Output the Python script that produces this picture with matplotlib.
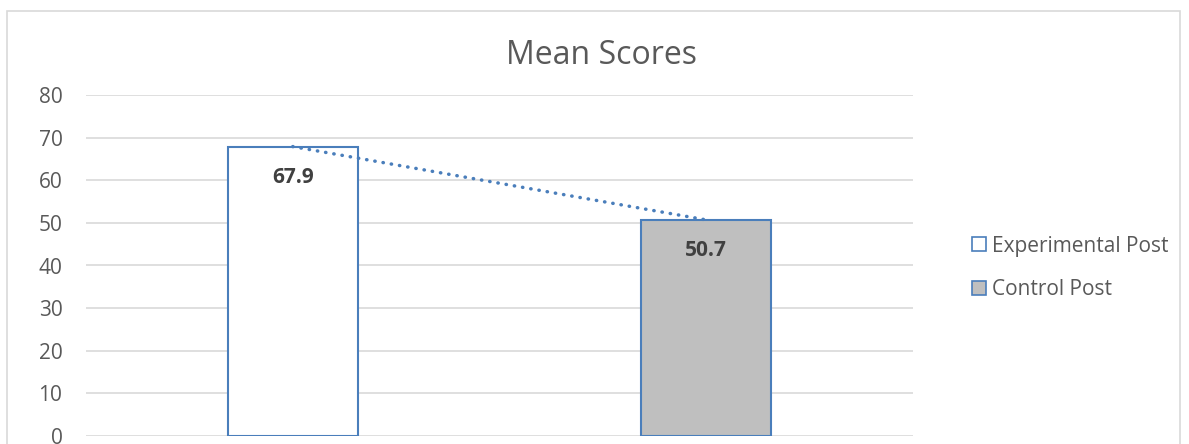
import matplotlib.pyplot as plt
from matplotlib.patches import Rectangle

groups = ['Experimental Post', 'Control Post']
scores = [67.9, 50.7]
yticks = [0, 10, 20, 30, 40, 50, 60, 70, 80]

plt.rcParams['font.family'] = ['Open Sans', 'DejaVu Sans']

W, H = 1189, 444
fig = plt.figure(figsize=(W / 100, H / 100), dpi=100)

# plot area in pixels: x 86..913, y 95..436
ax = fig.add_axes([86 / W, 1 - 436 / H, (913 - 86) / W, (436 - 95) / H])

# outer chart border
fig.patches.append(Rectangle((7 / W, -0.05), (1180 - 7) / W, 1.05 - 11 / H,
                             transform=fig.transFigure, fill=False,
                             edgecolor='#d9d9d9', linewidth=1.2))

faces = ['white', '#bfbfbf']
x = list(range(len(scores)))
bars = ax.bar(x, scores, width=0.315, color=faces, edgecolor='#4a7ebb',
              linewidth=1.5, zorder=3)

# linear trendline through the two bar tops
ax.plot(x, scores, linestyle=(0, (0.1, 2.3)), color='#4a7ebb', linewidth=2.5,
        zorder=4, dash_capstyle='round')

for xi, v in zip(x, scores):
    ax.text(xi, v - 7.2, f'{v:.1f}', ha='center', va='center', fontsize=15,
            fontweight='bold', color='#404040', zorder=5)

ax.set_xlim(-0.5, 1.5)
ax.set_ylim(0, 80)
ax.set_yticks(yticks)
ax.set_xticks([])
ax.tick_params(axis='y', length=0, pad=17, labelsize=15, labelcolor='#595959')
ax.grid(axis='y', color='#d9d9d9', linewidth=1.2, zorder=0)
for s in ax.spines.values():
    s.set_visible(False)

fig.text(601 / W, 1 - 56 / H, 'Mean Scores', ha='center', va='center',
         fontsize=23, color='#595959')

handles = [Rectangle((0, 0), 1, 1, facecolor=f, edgecolor='#4a7ebb', linewidth=1.2)
           for f in faces]
fig.legend(handles, groups, loc='center left',
           bbox_to_anchor=(962 / W, 1 - 268 / H), frameon=False,
           fontsize=15, labelcolor='#595959', handlelength=0.65,
           handleheight=0.65, handletextpad=0.3, labelspacing=1.1,
           borderpad=0)

fig.savefig('out.png', dpi=100)
